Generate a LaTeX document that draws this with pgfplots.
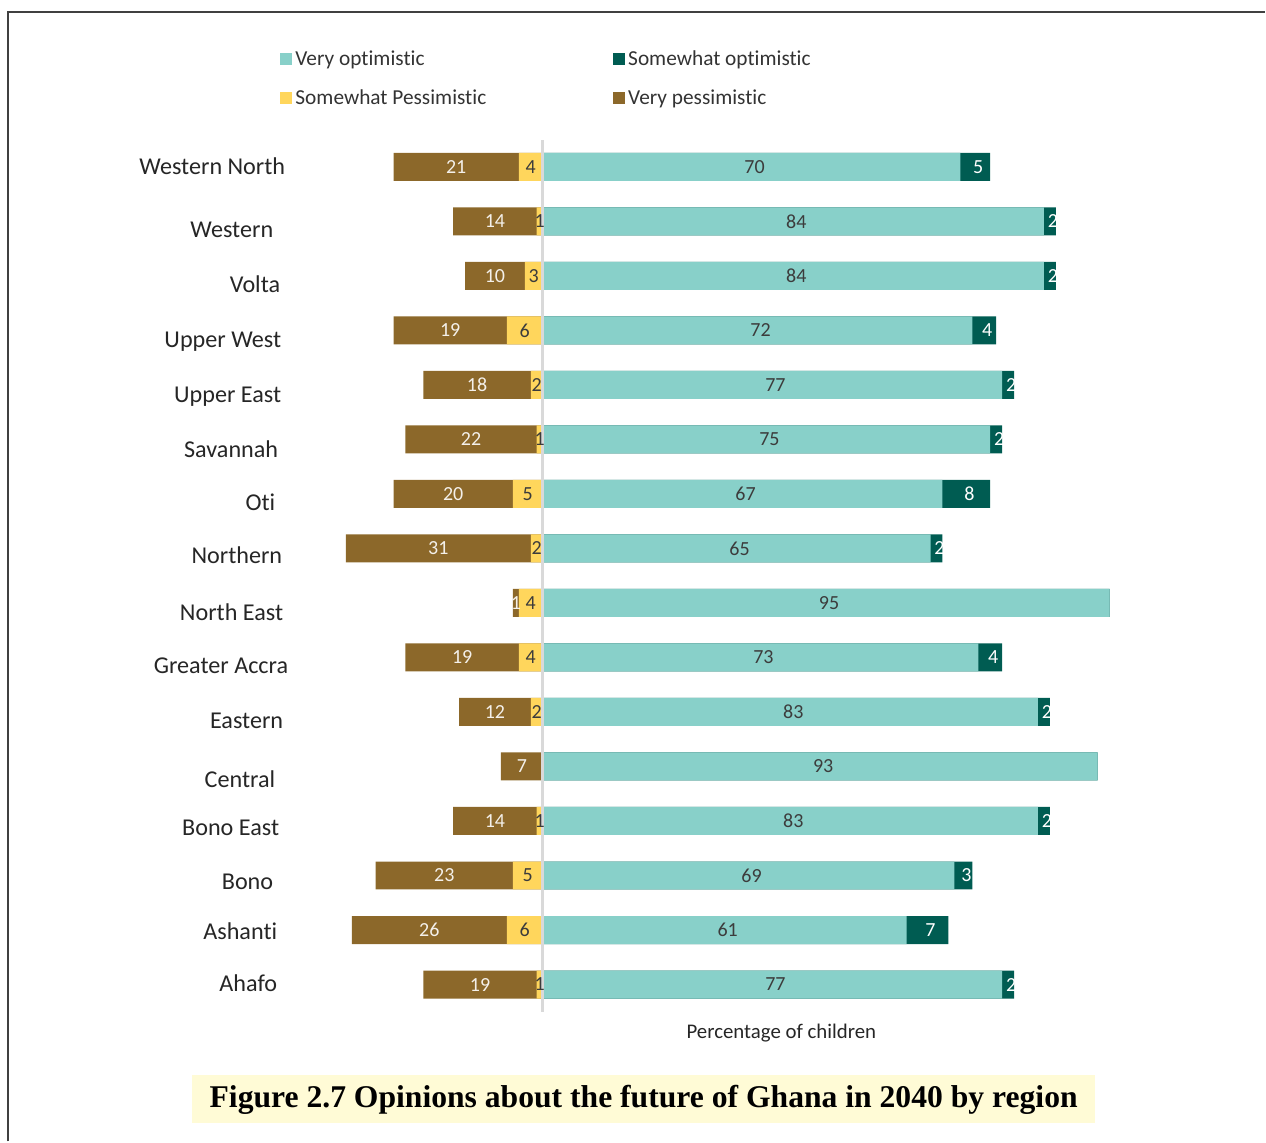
\documentclass[border=0pt]{standalone}
\usepackage{pgfplots}
\pgfplotsset{compat=1.18}
\usepackage{pgfplotstable}
\usepackage{fontspec}
\setmainfont{Carlito}[Ligatures=NoCommon]
\newfontfamily\capfont{Liberation Serif}

\definecolor{vo}{RGB}{136,208,201}
\definecolor{so}{RGB}{0,92,82}
\definecolor{sp}{RGB}{255,214,92}
\definecolor{vp}{RGB}{140,104,42}
\definecolor{capbg}{RGB}{255,251,214}
\definecolor{midline}{RGB}{217,217,217}
\definecolor{lbl}{RGB}{60,60,60}

% tick label with horizontal (dx) and vertical (dy) offsets in pixels of the reference
\newcommand\yl[3]{\raisebox{-#2\dimexpr0.6pt\relax}{#3}\hspace*{-#1\dimexpr0.6pt\relax}}

\pgfplotstableread{
y VP SP VO SO
15 21 4 70 5
14 14 1 84 2
13 10 3 84 2
12 19 6 72 4
11 18 2 77 2
10 22 1 75 2
9 20 5 67 8
8 31 2 65 2
7 1 4 95 0
6 19 4 73 4
5 12 2 83 2
4 7 0 93 0
3 14 1 83 2
2 23 5 69 3
1 26 6 61 7
0 19 1 77 2
}\data

\begin{document}
\begin{tikzpicture}[x=0.6pt,y=0.6pt]
\path (0,0) rectangle (1266,1142);
\draw[line width=0.8pt, black!75] (8,0) -- (8,1130) -- (1266,1130);
\fill[capbg] (192,18) rectangle (1096,66);
\node[font=\capfont\bfseries] at (644,42) {\resizebox{521pt}{!}{Figure 2.7 Opinions about the future of Ghana in 2040 by region}};
\begin{axis}[
  at={(182.52pt,77.82pt)}, anchor=south west,
  scale only axis, width=501.48pt, height=523.56pt,
  xmin=-40, xmax=100, ymin=-0.5, ymax=15.5,
  axis line style={draw=none},
  xtick=\empty, ytick={0,...,15},
  yticklabels={\yl{-1}{0}{Ahafo}, \yl{-1}{2}{Ashanti}, \yl{-5}{7}{Bono}, \yl{1}{7}{Bono East}, \yl{-3}{14}{Central}, \yl{5}{9}{Eastern}, \yl{10}{9}{Greater Accra}, \yl{5}{10}{North East}, \yl{4}{8}{Northern}, \yl{-3}{9}{Oti}, \yl{0}{11}{Savannah}, \yl{3}{10}{Upper East}, \yl{3}{10}{Upper West}, \yl{2}{9}{Volta}, \yl{-5}{9}{Western}, \yl{7}{0}{Western North}},
  major tick length=0pt,
  yticklabel style={font=\fontsize{14.5}{16}\selectfont, anchor=base east, xshift=-12pt, yshift=-4.3pt, text=black!85},
  xlabel={Percentage of children},
  xlabel style={at={(axis description cs:0.5714,0)}, anchor=north, yshift=-3.8pt, font=\fontsize{12.5}{15}\selectfont, text=black!85},
  /pgf/number format/assume math mode=true,
  clip=false,
  legend columns=2, legend cell align=left,
  legend image code/.code={\fill[#1] (0pt,-3.6pt) rectangle (7.2pt,3.6pt);},
  legend style={at={(axis description cs:-0.035,1.11)}, anchor=north west, draw=none, fill=none,
     font=\fontsize{12.8}{15}\selectfont, text=black!80, row sep=9pt,
     /tikz/every even column/.append style={column sep=74pt}},
]
\addlegendimage{fill=vo, draw=none}\addlegendentry{Very optimistic}
\addlegendimage{fill=so, draw=none}\addlegendentry{Somewhat optimistic}
\addlegendimage{fill=sp, draw=none}\addlegendentry{Somewhat Pessimistic}
\addlegendimage{fill=vp, draw=none}\addlegendentry{Very pessimistic}

\addplot[forget plot, xbar, bar width=16.8pt, bar shift=0pt, fill=vp, draw=none] table[x expr=-\thisrow{VP}-\thisrow{SP}, y=y] \data;
\addplot[forget plot, xbar, bar width=16.8pt, bar shift=0pt, fill=sp, draw=none] table[x expr=-\thisrow{SP}, y=y] \data;
\addplot[forget plot, xbar, bar width=16.8pt, bar shift=0pt, fill=so, draw=none] table[x expr=\thisrow{VO}+\thisrow{SO}, y=y] \data;
\addplot[forget plot, xbar, bar width=16.8pt, bar shift=0pt, fill=vo, draw=none] table[x=VO, y=y] \data;

\addplot[forget plot, midline, line width=1.8pt] coordinates {(0,-0.5) (0,15.5)};

\pgfplotsset{lab/.style={forget plot, only marks, mark=none, point meta=explicit,
   nodes near coords={\pgfmathfloatifflags{\pgfplotspointmeta}{0}{}{\pgfmathprintnumber{\pgfplotspointmeta}}},
   every node near coord/.append style={anchor=center, font=\fontsize{12}{14}\selectfont, text=#1}}}
\addplot[lab=lbl] table[x expr=\thisrow{VO}/2+0.5, y=y, meta=VO] \data;
\addplot[lab=white] table[x expr=\thisrow{VO}+\thisrow{SO}/2+0.5, y=y, meta=SO] \data;
\addplot[lab=lbl] table[x expr=-\thisrow{SP}/2, y=y, meta=SP] \data;
\addplot[lab=white!90!vp] table[x expr=-\thisrow{SP}-\thisrow{VP}/2, y=y, meta=VP] \data;
\end{axis}
\end{tikzpicture}
\end{document}
